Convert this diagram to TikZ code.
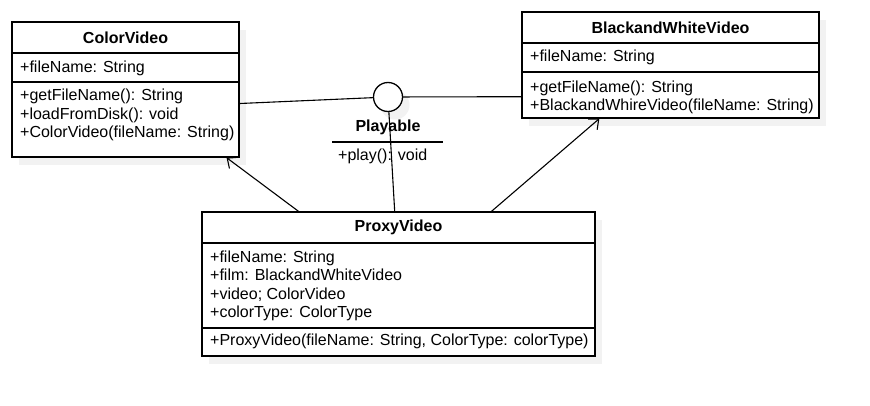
\documentclass[tikz,border=0pt]{standalone}
\usepackage{fontspec}
\setmainfont{Liberation Sans}
\usetikzlibrary{arrows.meta,shadows}
\newcommand{\umlFont}{\fontsize{16}{18.4}\selectfont}
\newcommand{\boxLine}{1.3pt}
\newcommand{\linkLine}{1.1pt}

\tikzset{
  classbox/.style={draw, line width=\boxLine, fill=white, inner sep=0pt,
    drop shadow={shadow xshift=7pt, shadow yshift=-8pt, fill=black!5, opacity=1}},
  classname/.style={font=\umlFont\bfseries, inner sep=0pt},
  members/.style={font=\umlFont, align=left, anchor=west, inner sep=0pt},
  divider/.style={line width=\boxLine},
  lollipop/.style={line width=\linkLine},
  realize/.style={line width=\linkLine, -{Straight Barb[length=8pt,width=14pt]}},
}

\begin{document}
\begin{tikzpicture}[x=1pt, y=-1pt]
\useasboundingbox (0,0) rectangle (870,406);

\node[classbox, minimum width=227, minimum height=135] (color) at (125.5,89.5) {};
\node[classname] (colorName) at (125.5,37.5) {ColorVideo};
\draw[divider] (color.west |- 0,53) -- (color.east |- 0,53);
\draw[divider] (color.west |- 0,82) -- (color.east |- 0,82);
\node[members] (colorAttr) at (20,68) {+fileName: String};
\node[members] (colorOps) at (20,115) {+getFileName(): String\\+loadFromDisk(): void\\+ColorVideo(fileName: String)};

\node[classbox, minimum width=297, minimum height=106] (bw) at (670.5,65) {};
\node[classname] (bwName) at (670.5,27.5) {BlackandWhiteVideo};
\draw[divider] (bw.west |- 0,43) -- (bw.east |- 0,43);
\draw[divider] (bw.west |- 0,72) -- (bw.east |- 0,72);
\node[members] (bwAttr) at (530,57.5) {+fileName: String};
\node[members] (bwOps) at (530,97.5) {+getFileName(): String\\+BlackandWhireVideo(fileName: String)};

\node[classbox, minimum width=393, minimum height=144] (proxy) at (398.5,284) {};
\node[classname] (proxyName) at (398.5,227.5) {ProxyVideo};
\draw[divider] (proxy.west |- 0,243) -- (proxy.east |- 0,243);
\draw[divider] (proxy.west |- 0,328) -- (proxy.east |- 0,328);
\node[members] (proxyAttr) at (210,286) {+fileName: String\\+film: BlackandWhiteVideo\\+video; ColorVideo\\+colorType: ColorType};
\node[members] (proxyOps) at (210,341) {+ProxyVideo(fileName: String, ColorType: colorType)};

\node[classbox, circle, minimum size=29] (iface) at (388,97) {};
\node[classname] (ifaceName) at (388,127) {Playable};
\draw[lollipop] (332,142) -- (443,142);
\node[members] (ifaceOps) at (338,156.5) {+play(): void};

\draw[lollipop] (color.-7.8) -- (iface);
\draw[lollipop] (iface) -- (bw.192.2);
\draw[lollipop] (iface) -- (proxy.93.6);
\draw[realize] (proxy.144.9) -- (color.-34.4);
\draw[realize] (proxy.38.8) -- (bw.217.7);

\end{tikzpicture}
\end{document}
